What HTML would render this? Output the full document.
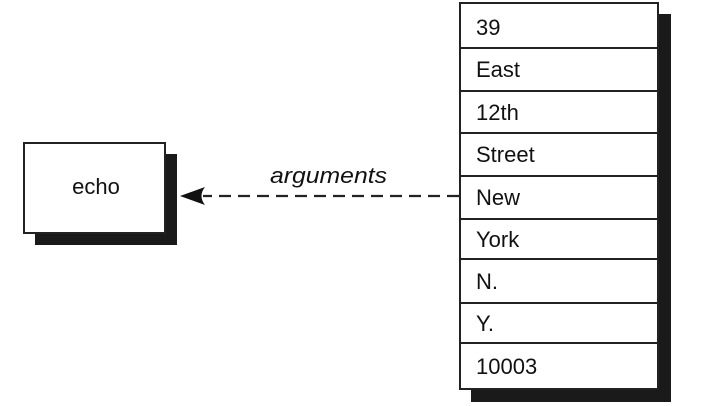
<!DOCTYPE html>
<html><head><meta charset="utf-8"><style>
html,body{margin:0;padding:0;background:#fff;}
svg{display:block;}
text{font-family:"Liberation Sans",Arial,sans-serif;fill:#111;}
</style></head><body>
<svg width="720" height="406" viewBox="0 0 720 406" xmlns="http://www.w3.org/2000/svg">
<rect x="35" y="154" width="142" height="91" fill="#1a1a1a"/>
<rect x="24" y="143" width="141" height="90" fill="#fff" stroke="#222" stroke-width="2"/>
<text x="96" y="194" font-size="22" text-anchor="middle">echo</text>
<rect x="471" y="14" width="200" height="388" fill="#1a1a1a"/>
<rect x="460" y="3" width="198" height="386" fill="#fff" stroke="#222" stroke-width="2"/>
<g stroke="#222" stroke-width="2">
<line x1="460" y1="48" x2="658" y2="48"/>
<line x1="460" y1="91" x2="658" y2="91"/>
<line x1="460" y1="133" x2="658" y2="133"/>
<line x1="460" y1="176" x2="658" y2="176"/>
<line x1="460" y1="219" x2="658" y2="219"/>
<line x1="460" y1="259" x2="658" y2="259"/>
<line x1="460" y1="303" x2="658" y2="303"/>
<line x1="460" y1="343" x2="658" y2="343"/>
</g>
<g font-size="22">
<text x="476" y="35">39</text>
<text x="476" y="77">East</text>
<text x="476" y="120">12th</text>
<text x="476" y="162">Street</text>
<text x="476" y="205">New</text>
<text x="476" y="247">York</text>
<text x="476" y="289">N.</text>
<text x="476" y="331">Y.</text>
<text x="476" y="374">10003</text>
</g>
<line x1="459" y1="196" x2="203" y2="196" stroke="#222" stroke-width="2.2" stroke-dasharray="12,7"/>
<path d="M180,196 L205,187 Q198,196 205,205 Z" fill="#111"/>
<text x="270" y="183" font-size="22" font-style="italic" textLength="117" lengthAdjust="spacingAndGlyphs">arguments</text>
</svg>
</body></html>
